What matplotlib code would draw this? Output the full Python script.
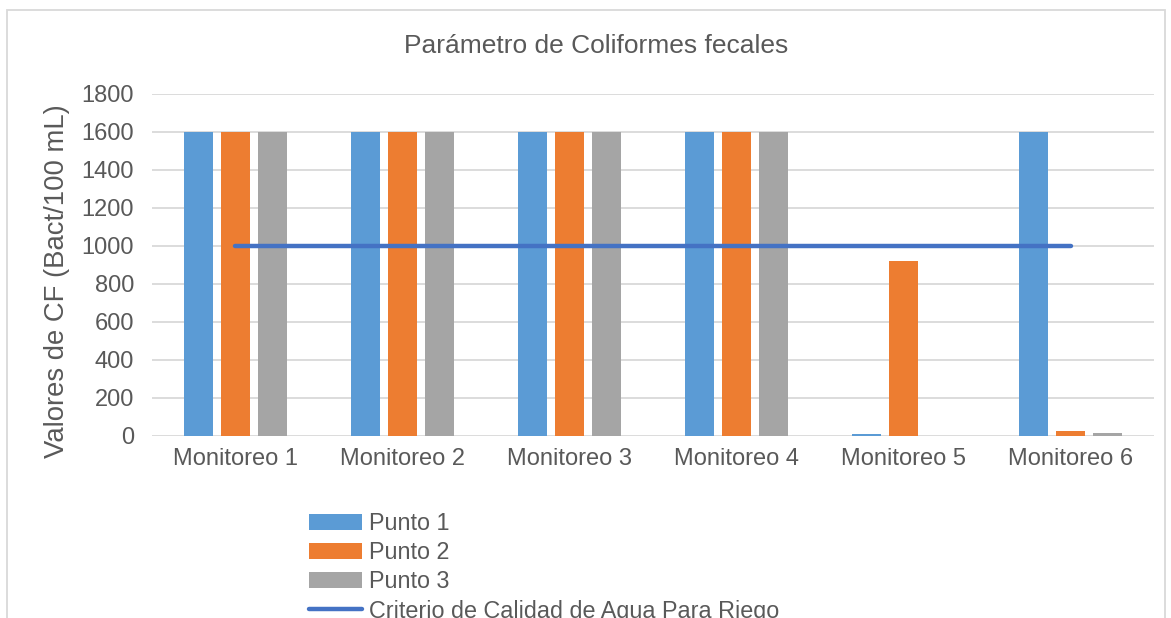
import numpy as np
import matplotlib.pyplot as plt
from matplotlib.patches import Rectangle

plt.rcParams['font.family'] = ['Liberation Sans', 'DejaVu Sans']

# data
categories = ['Monitoreo 1', 'Monitoreo 2', 'Monitoreo 3',
              'Monitoreo 4', 'Monitoreo 5', 'Monitoreo 6']
punto1 = [1600, 1600, 1600, 1600, 9, 1600]
punto2 = [1600, 1600, 1600, 1600, 920, 26]
punto3 = [1600, 1600, 1600, 1600, 0, 15]
criterio = [1000] * 6
yticks = [0, 200, 400, 600, 800, 1000, 1200, 1400, 1600, 1800]

text_col = '#595959'
grid_col = '#D9D9D9'

fig = plt.figure(figsize=(11.71, 6.18), dpi=100)
ax = fig.add_axes([0.1298, 0.2945, 0.9855 - 0.1298, 0.8479 - 0.2945])

x = np.arange(len(categories))
w = 0.174
b1 = ax.bar(x - 0.219, punto1, w, color='#5B9BD5', label='Punto 1', zorder=2)
b2 = ax.bar(x, punto2, w, color='#ED7D31', label='Punto 2', zorder=2)
b3 = ax.bar(x + 0.219, punto3, w, color='#A5A5A5', label='Punto 3', zorder=2)
ln, = ax.plot(x, criterio, color='#4472C4', lw=3.2, solid_capstyle='round',
              label='Criterio de Calidad de Agua Para Riego', zorder=3)

ax.set_xlim(-0.5, len(categories) - 0.5)
ax.set_ylim(0, 1800)
ax.set_yticks(yticks)
ax.set_xticks(x)
ax.set_xticklabels(categories)
ax.grid(axis='y', color=grid_col, lw=1.3, zorder=0)
for s in ax.spines.values():
    s.set_visible(False)
ax.tick_params(axis='both', length=0, labelsize=17, colors=text_col)
ax.tick_params(axis='y', pad=13)
ax.tick_params(axis='x', pad=9)

fig.text(0.509, 0.925, 'Parámetro de Coliformes fecales', ha='center',
         va='center', fontsize=19, color=text_col)
fig.text(57 / 1171, 0.5445, 'Valores de CF (Bact/100 mL)', rotation=90,
         ha='center', va='center', fontsize=19.8, color=text_col)

fig.legend(handles=[b1, b2, b3, ln], loc='upper left',
           bbox_to_anchor=(300 / 1171, 1 - 503 / 618),
           frameon=False, fontsize=16.8, handlelength=2.25, handletextpad=0.3,
           labelspacing=0.26, borderaxespad=0, labelcolor=text_col)

# chart border
fig.patches.append(Rectangle((7 / 1171, -0.1), (1165 - 7) / 1171, 1.1 - 10 / 618,
                             transform=fig.transFigure, fill=False,
                             edgecolor=grid_col, lw=1.3))

fig.savefig('out.png', dpi=100)
